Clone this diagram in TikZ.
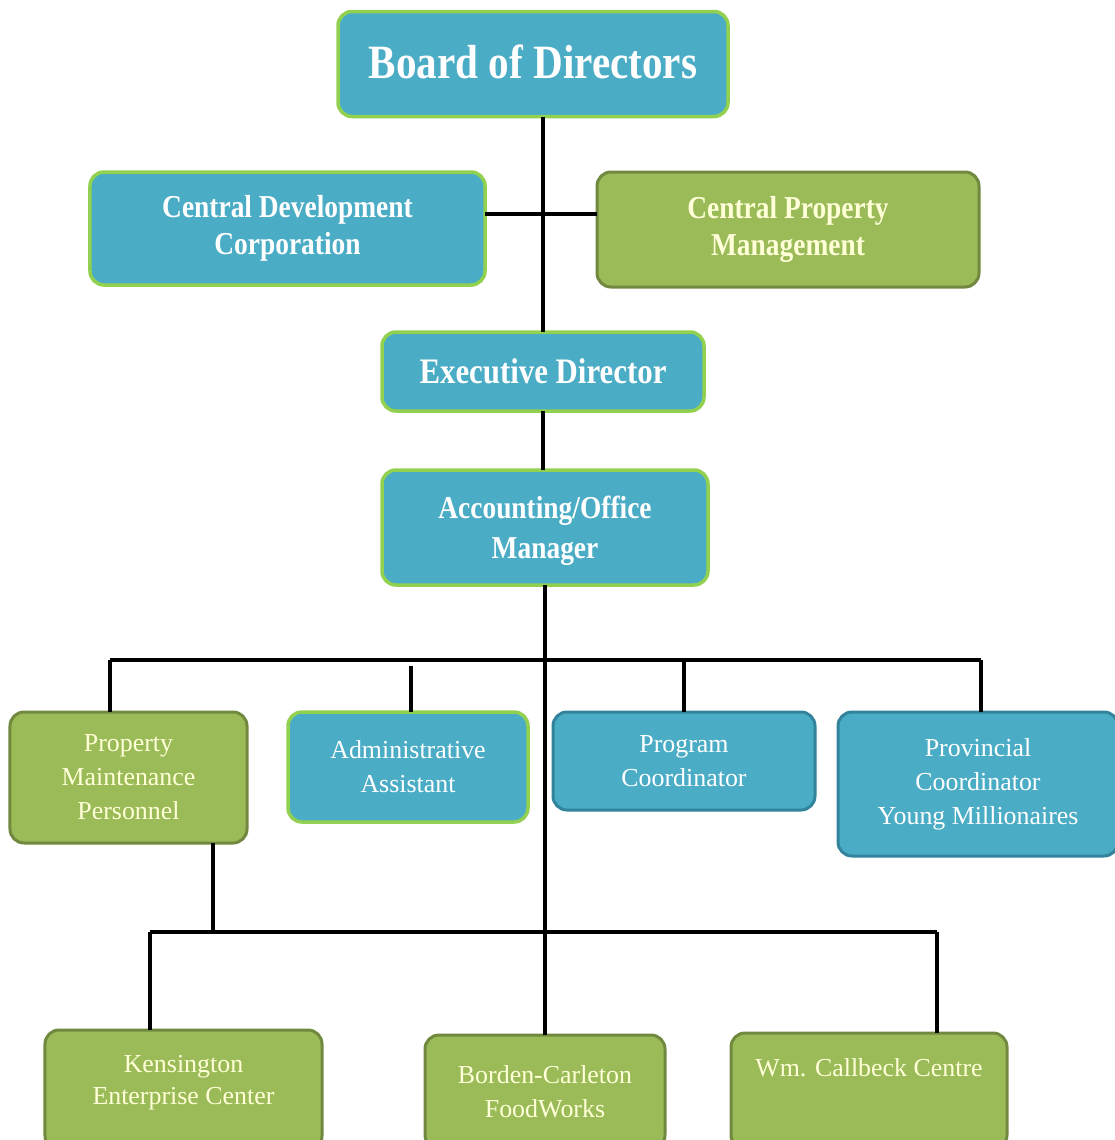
\documentclass[tikz,border=0pt]{standalone}
\usepackage{fontspec}
\setmainfont{Liberation Serif}
\newfontfamily\narrowserif[FakeStretch=0.86]{Liberation Serif}
\usetikzlibrary{positioning}
\definecolor{aquafill}{HTML}{4BACC6}
\definecolor{leaffill}{HTML}{9BBB59}
\definecolor{limeline}{HTML}{92D050}
\definecolor{mossline}{HTML}{71893F}
\definecolor{deepline}{HTML}{31849B}
\definecolor{cream}{HTML}{FFFFD8}
\newcommand{\boardfont}{\narrowserif\bfseries\fontsize{48}{52}\selectfont}
\newcommand{\headfont}{\narrowserif\bfseries\fontsize{32}{37}\selectfont}
\newcommand{\execfont}{\narrowserif\bfseries\fontsize{36}{40}\selectfont}
\newcommand{\stafffont}{\fontsize{26}{34}\selectfont}
\tikzset{
  every node/.style={inner sep=0pt,outer sep=0pt,align=center},
  unit/.style={rounded corners=14bp,line width=3.5bp},
  aquabox/.style={unit,fill=aquafill,draw=limeline,text=white},
  deepbox/.style={unit,fill=aquafill,draw=deepline,line width=3bp,text=white},
  leafbox/.style={unit,fill=leaffill,draw=mossline,line width=3bp,text=cream},
  sitename/.style={font=\stafffont,text=cream},
  link/.style={line width=3.8bp,black}
}
\begin{document}
\begin{tikzpicture}[x=1bp,y=-1bp]
\path[use as bounding box,fill=white] (0,0) rectangle (1115,1140);

% top tier
\node[aquabox,minimum width=390bp,minimum height=105bp,font=\boardfont] (board) at (533,64) {\raisebox{5bp}{Board of Directors}};
\node[aquabox,minimum width=395bp,minimum height=113bp,font=\headfont] (cdc) at (287.5,228.5) {Central Development\\Corporation};
\node[leafbox,minimum width=382bp,minimum height=115bp,font=\headfont] (cpm) at (788,229.5) {Central Property\\Management};
\node[aquabox,minimum width=322bp,minimum height=79bp,font=\execfont] (exec) at (543,371.5) {Executive Director};
\node[aquabox,minimum width=326bp,minimum height=115bp,font=\headfont,text depth=1bp] (acct) at (545,527.5) {Accounting/Office\\[3bp]Manager};

% staff row
\node[leafbox,minimum width=237bp,minimum height=131bp,font=\stafffont] (pmp) at (128.5,777.5) {Property\\Maintenance\\Personnel};
\node[aquabox,minimum width=240bp,minimum height=110bp,font=\stafffont] (admin) at (408,767) {Administrative\\Assistant};
\node[deepbox,minimum width=262bp,minimum height=98bp,font=\stafffont] (prog) at (684,761) {Program\\Coordinator};
\node[deepbox,minimum width=280bp,minimum height=144bp,font=\stafffont] (prov) at (978,784) {Provincial\\Coordinator\\Young Millionaires};

% sites, cut by the page edge
\node[leafbox,minimum width=277bp,minimum height=120bp] (kens) at (183.5,1090) {};
\node[sitename] (kensname) at (183.5,1083) {Kensington\\[-2bp]Enterprise Center};
\node[leafbox,minimum width=240bp,minimum height=114bp,font=\stafffont] (borden) at (545,1092) {Borden-Carleton\\FoodWorks};
\node[leafbox,minimum width=276bp,minimum height=116bp] (wm) at (869,1091) {};
\node[sitename] (wmname) at (869,1068) {Wm. Callbeck Centre};

% reporting lines
\coordinate (tie) at (543,214);
\coordinate (bar) at (543,660);
\coordinate (lowbar) at (543,932);
\draw[link] (exec.north |- board.south) -- (exec.north);
\draw[link] (cdc.east |- tie) -- (cpm.west |- tie);
\draw[link] (exec.south) -- (exec.south |- acct.north);
\draw[link] (acct.south) -- (borden.north);
\draw[link] ([xshift=-18.5bp]pmp.north |- bar) -- ([xshift=3bp]prov.north |- bar);
\draw[link] ([xshift=-18.5bp]pmp.north |- bar) -- ([xshift=-18.5bp]pmp.north);
\draw[link,shorten <=6bp] ([xshift=3bp]admin.north |- bar) -- ([xshift=3bp]admin.north);
\draw[link] (prog.north |- bar) -- (prog.north);
\draw[link] ([xshift=3bp]prov.north |- bar) -- ([xshift=3bp]prov.north);
\draw[link] ([xshift=84.5bp]pmp.south) -- ([xshift=84.5bp]pmp.south |- lowbar);
\draw[link] ([xshift=-33.5bp]kens.north |- lowbar) -- ([xshift=68bp]wm.north |- lowbar);
\draw[link] ([xshift=-33.5bp]kens.north |- lowbar) -- ([xshift=-33.5bp]kens.north);
\draw[link] ([xshift=68bp]wm.north |- lowbar) -- ([xshift=68bp]wm.north);
\end{tikzpicture}
\end{document}
